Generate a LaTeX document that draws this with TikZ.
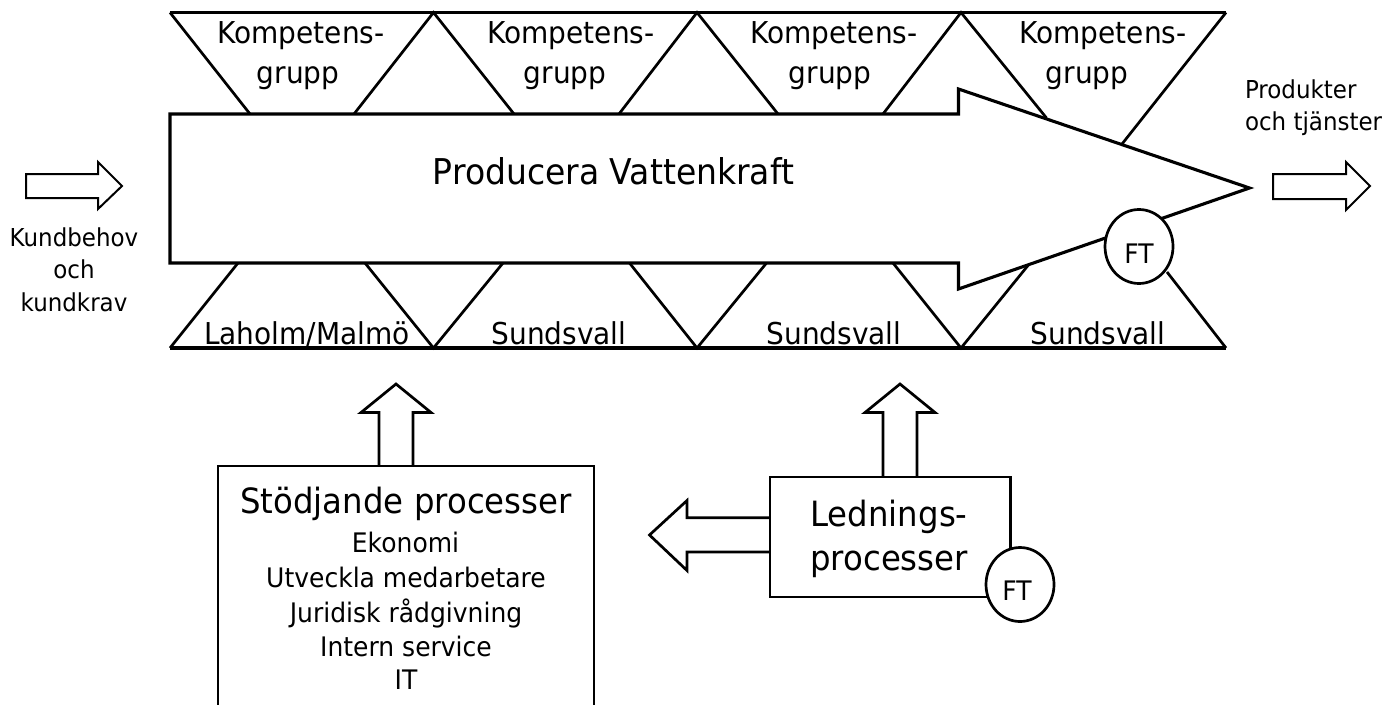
\documentclass[tikz,border=0pt]{standalone}
\usepackage{fontspec}
\setmainfont{DejaVu Sans}[FakeStretch=0.93]
\newcommand{\fs}[1]{\fontsize{#1}{#1}\selectfont}
\usetikzlibrary{shapes.geometric}
\tikzset{
  heavy/.style={draw=black,line width=3.1pt,line join=miter},
  medium/.style={draw=black,line width=2.7pt,line join=miter,fill=white},
  slant/.style={draw=black,line width=2.7pt,line join=miter},
  thin arrow/.style={draw=black,line width=2pt,fill=white,line join=miter},
  lbl/.style={anchor=base,inner sep=0pt,outer sep=0pt,text=black},
  big/.style={lbl,font=\fs{30.1}},
  huge/.style={lbl,font=\fs{35.5}},
  head/.style={lbl,font=\fs{34.8}},
  small/.style={lbl,font=\fs{24.7}},
  sub/.style={lbl,font=\fs{26.9}},
  ftbub/.style={ellipse,draw=black,line width=2.7pt,fill=white,minimum width=68pt,minimum height=74pt,inner sep=0pt}
}
\begin{document}
\begin{tikzpicture}[x=1pt,y=-1pt]
\useasboundingbox (0,0) rectangle (1396,704);
% top band
\draw[heavy] (170,12.5) -- (1226,12.5);
\draw[slant] (170,12.5) -- (250,114);
\draw[slant] (354,114) -- (433.5,12.5) -- (514,114);
\draw[slant] (619,114) -- (697,12.5) -- (778,114);
\draw[slant] (883,114) -- (961,12.5) -- (1046.5,118);
\draw[slant] (1226,12.5) -- (1122,144);
% bottom band
\draw[heavy] (170,348) -- (1226,348);
\draw[slant] (238,263) -- (170,348);
\draw[slant] (365,263) -- (433.5,348) -- (503,263);
\draw[slant] (629.5,263) -- (697,348) -- (766.5,263);
\draw[slant] (893,263) -- (961,348) -- (1030,263);
\draw[slant] (1167,272) -- (1226,348);
% main arrow
\draw[heavy,fill=white] (170,114) -- (958.5,114) -- (958.5,89) -- (1249.5,188) -- (958.5,289) -- (958.5,263) -- (170,263) -- cycle;
\node[ftbub] (ft1) at (1139,246.5) {};
\node[sub] (ft1t) at (1139,263) {FT};
% side arrows
\draw[thin arrow] (26,174) -- (98,174) -- (98,162) -- (122,186) -- (98,209) -- (98,198) -- (26,198) -- cycle;
\draw[thin arrow] (1273,174) -- (1346,174) -- (1346,162) -- (1370,186) -- (1346,210) -- (1346,199) -- (1273,199) -- cycle;
% up arrows
\draw[medium] (379,466) -- (379,412.5) -- (361,412.5) -- (396,384) -- (431,412.5) -- (413,412.5) -- (413,466);
\draw[medium] (883,477) -- (883,412.5) -- (865,412.5) -- (900,384) -- (935,412.5) -- (917,412.5) -- (917,477);
% left arrow
\draw[medium] (770,517.7) -- (687,517.7) -- (687,500.5) -- (649.5,535) -- (687,570.5) -- (687,552) -- (770,552);
% boxes
\draw[medium] (218,710) -- (218,466) -- (594,466) -- (594,710);
\draw[medium] (770,477) rectangle (1010.5,597);
\node[ftbub] (ft2) at (1020,584.5) {};
\node[sub] (ft2t) at (1017,600.5) {FT};
% labels
\node[big] (k1a) at (301,43) {Kompetens-};
\node[big] (k1b) at (298,83) {grupp};
\node[big] (k2a) at (571,43) {Kompetens-};
\node[big] (k2b) at (565,83) {grupp};
\node[big] (k3a) at (834,43) {Kompetens-};
\node[big] (k3b) at (830,83) {grupp};
\node[big] (k4a) at (1103,43) {Kompetens-};
\node[big] (k4b) at (1087,83) {grupp};
\node[huge] (main) at (613.5,184) {Producera Vattenkraft};
\node[big] (s1) at (307,344) {Laholm/Malmö};
\node[big] (s2) at (559,344) {Sundsvall};
\node[big] (s3) at (834,344) {Sundsvall};
\node[big] (s4) at (1098,344) {Sundsvall};
\node[small] (in1) at (74,246) {Kundbehov};
\node[small] (in2) at (74,278) {och};
\node[small] (in3) at (74,311) {kundkrav};
\node[small,anchor=base west] (out1) at (1245,98) {Produkter};
\node[small,anchor=base west] (out2) at (1245,130) {och tjänster};
\node[head] (sh) at (406,513) {Stödjande processer};
\node[sub] (s1l) at (405.5,552) {Ekonomi};
\node[sub] (s2l) at (406,587) {Utveckla medarbetare};
\node[sub] (s3l) at (406,622) {Juridisk rådgivning};
\node[sub] (s4l) at (406,656) {Intern service};
\node[sub] (s5l) at (406,689) {IT};
\node[head] (l1) at (889,526) {Lednings-};
\node[head] (l2) at (889,570) {processer};
\end{tikzpicture}
\end{document}
